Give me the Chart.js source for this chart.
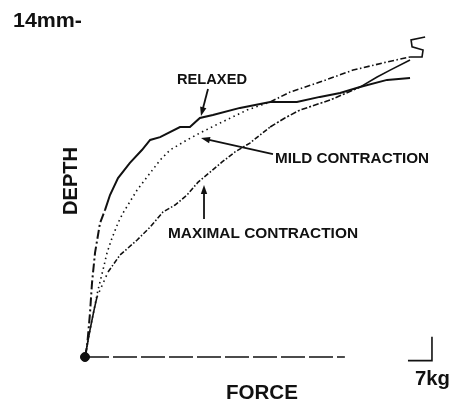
<!DOCTYPE html>
<html><head><meta charset="utf-8">
<script src="https://cdn.jsdelivr.net/npm/chart.js@4.4.1/dist/chart.umd.min.js"></script>
<style>html,body{margin:0;padding:0;background:#fff;}canvas{display:block;}</style>
</head><body>
<canvas id="c" width="453" height="404"></canvas>
<script>
// ---- data (force in kg, depth in mm) ----
const SERIES_NAMES = ['RELAXED', 'MILD CONTRACTION', 'MAXIMAL CONTRACTION'];

const RELAXED_FORCE_KG = [0, 0.58, 1.46, 2.04, 2.92, 4.38, 5.83, 7.29, 9.63, 13.1, 16.6, 19.0, 21.9, 27.7, 30.6, 33.5, 37.3, 45.2, 54.0, 61.8, 68.5, 74.4, 80.2, 88.1, 94.8];
const RELAXED_DEPTH_MM = [0, 0.42, 1.84, 3.09, 4.35, 5.60, 6.14, 6.77, 7.48, 8.11, 8.65, 9.07, 9.19, 9.61, 9.61, 9.99, 10.11, 10.41, 10.66, 10.66, 10.87, 11.03, 11.28, 11.58, 11.66];

const MILD_FORCE_KG = [0, 0.88, 2.04, 3.79, 5.25, 6.42, 7.88, 9.63, 11.1, 15.2, 18.1, 21.9, 24.8, 29.75, 33.5, 39.4, 47.25, 54.0, 59.8, 68.5, 78.2, 88.1, 94.8, 98.3, 98.6, 95.4, 95.1, 99.2];
const MILD_DEPTH_MM = [0, 0.71, 1.55, 2.80, 3.64, 4.35, 4.97, 5.60, 6.02, 6.98, 7.52, 8.23, 8.65, 9.07, 9.36, 9.78, 10.32, 10.66, 11.07, 11.49, 11.99, 12.33, 12.54, 12.54, 12.83, 12.96, 13.25, 13.37];

const MAXIMAL_FORCE_KG = [0, 1.46, 2.63, 3.50, 6.71, 10.2, 15.2, 19.0, 22.75, 26.25, 29.75, 33.0, 36.5, 40.0, 43.75, 48.1, 54.0, 58.3, 62.7, 71.5, 80.2, 85.2, 89.0, 94.8];
const MAXIMAL_DEPTH_MM = [0, 1.13, 1.96, 2.51, 3.55, 4.26, 4.89, 5.43, 6.06, 6.35, 6.77, 7.31, 7.73, 8.15, 8.57, 8.94, 9.61, 9.99, 10.32, 10.74, 11.28, 11.70, 11.99, 12.41];

const FORCE_AXIS_KG = [0, 75.8];   // drawn extent of the force axis
const DEPTH_MAX_MM = 14;           // "14mm" mark
const SCALE_BAR_KG = 7;            // "7kg" calibration bar
const SCALE_BAR_MM = 1;
const SCALE_BAR_START_KG = 94.2;

// ---- helpers ----
const pts = (xs, ys) => xs.map((x, i) => ({x: x, y: ys[i]}));
const INK = '#111111';
const FONT = '"Liberation Sans", Arial, Helvetica, sans-serif';

function dashFor(rules) {
  return ctx => {
    const i = ctx.p0DataIndex;
    for (const r of rules) if (i < r[0]) return r[1];
    return [];
  };
}

const annotations = {
  labels: [
    {text: SERIES_NAMES[0], kg: 26.83, mm: 11.41, size: 14.5, width: 70},
    {text: SERIES_NAMES[1], kg: 55.42, mm: 8.11, size: 14.5, width: 154},
    {text: SERIES_NAMES[2], kg: 24.21, mm: 4.97, size: 15.5, width: 190}
  ],
  arrows: [
    {from: [35.875, 11.20], to: [33.83, 10.07]},
    {from: [54.83, 8.48], to: [33.83, 9.15]},
    {from: [34.71, 5.77], to: [34.71, 7.19]}
  ]
};

function fitText(ctx, text, x, y, size, width, align) {
  ctx.save();
  ctx.font = 'bold ' + size + 'px ' + FONT;
  const w = ctx.measureText(text).width;
  const sx = width ? width / w : 1;
  ctx.translate(x, y);
  ctx.scale(sx, 1);
  ctx.textBaseline = 'alphabetic';
  ctx.textAlign = 'left';
  let ox = 0;
  if (align === 'right') ox = -w; else if (align === 'center') ox = -w / 2;
  ctx.fillStyle = INK;
  ctx.fillText(text, ox, 0);
  ctx.restore();
}

function arrow(ctx, x0, y0, x1, y1) {
  const ang = Math.atan2(y1 - y0, x1 - x0);
  const hl = 9, hw = 3.2;
  ctx.save();
  ctx.strokeStyle = INK; ctx.fillStyle = INK; ctx.lineWidth = 1.8;
  ctx.beginPath();
  ctx.moveTo(x0, y0);
  ctx.lineTo(x1 - Math.cos(ang) * hl * 0.8, y1 - Math.sin(ang) * hl * 0.8);
  ctx.stroke();
  ctx.beginPath();
  ctx.moveTo(x1, y1);
  ctx.lineTo(x1 - Math.cos(ang) * hl - Math.sin(ang) * hw, y1 - Math.sin(ang) * hl + Math.cos(ang) * hw);
  ctx.lineTo(x1 - Math.cos(ang) * hl + Math.sin(ang) * hw, y1 - Math.sin(ang) * hl - Math.cos(ang) * hw);
  ctx.closePath();
  ctx.fill();
  ctx.restore();
}

const textPlugin = {
  id: 'figText',
  afterDatasetsDraw(chart) {
    const ctx = chart.ctx;
    const xs = chart.scales.x, ys = chart.scales.y;
    const X = v => xs.getPixelForValue(v), Y = v => ys.getPixelForValue(v);
    const left = X(0), bottom = Y(0);

    annotations.labels.forEach(l => fitText(ctx, l.text, X(l.kg), Y(l.mm), l.size, l.width, 'left'));
    annotations.arrows.forEach(a => arrow(ctx, X(a.from[0]), Y(a.from[1]), X(a.to[0]), Y(a.to[1])));

    // depth maximum mark
    fitText(ctx, DEPTH_MAX_MM + 'mm-', left - 3, Y(DEPTH_MAX_MM) + 5, 19.5, 69, 'right');

    // axis titles
    ctx.save();
    ctx.translate(left - 8, Y(7.36));
    ctx.rotate(-Math.PI / 2);
    fitText(ctx, 'DEPTH', 0, 0, 21, 68, 'center');
    ctx.restore();
    fitText(ctx, 'FORCE', X(51.6), bottom + 42, 20, 72, 'center');

    // calibration label
    fitText(ctx, SCALE_BAR_KG + 'kg', X(SCALE_BAR_START_KG) + 7, bottom + 28, 19.5, 35, 'left');
  }
};

const chart = new Chart(document.getElementById('c'), {
  type: 'scatter',
  data: {
    datasets: [
      {
        label: SERIES_NAMES[0],
        data: pts(RELAXED_FORCE_KG, RELAXED_DEPTH_MM),
        showLine: true, borderColor: INK, borderWidth: 2, pointRadius: 0, tension: 0, clip: false,
        segment: {borderDash: dashFor([[6, [9, 3, 2, 3]]])}
      },
      {
        label: SERIES_NAMES[1],
        data: pts(MILD_FORCE_KG, MILD_DEPTH_MM),
        showLine: true, borderColor: INK, borderWidth: 1.6, pointRadius: 0, tension: 0, clip: false,
        segment: {borderDash: dashFor([[17, [1.5, 3.5]], [22, [6, 2.5, 1.5, 2.5]]])}
      },
      {
        label: SERIES_NAMES[2],
        data: pts(MAXIMAL_FORCE_KG, MAXIMAL_DEPTH_MM),
        showLine: true, borderColor: INK, borderWidth: 1.6, pointRadius: 0, tension: 0, clip: false,
        segment: {borderDash: dashFor([[3, []], [4, [1.5, 4]], [16, [5, 2, 1.5, 2]], [20, [6, 2, 2, 2]]])}
      },
      {
        label: 'force axis',
        data: pts(FORCE_AXIS_KG, [0, 0]),
        showLine: true, borderColor: INK, borderWidth: 1.6, pointRadius: 0, clip: false,
        borderDash: [24, 4]
      },
      {
        label: 'origin',
        data: [{x: 0, y: 0}],
        showLine: false, pointRadius: 4.5, pointBackgroundColor: INK, pointBorderColor: INK, clip: false
      },
      {
        label: 'scale bar',
        data: [
          {x: SCALE_BAR_START_KG, y: -0.15},
          {x: SCALE_BAR_START_KG + SCALE_BAR_KG, y: -0.15},
          {x: SCALE_BAR_START_KG + SCALE_BAR_KG, y: -0.15 + SCALE_BAR_MM}
        ],
        showLine: true, borderColor: INK, borderWidth: 1.6, pointRadius: 0, clip: false
      }
    ]
  },
  options: {
    responsive: false,
    animation: false,
    devicePixelRatio: 1,
    layout: {padding: {left: 85, right: 8, top: 22, bottom: 47}},
    plugins: {legend: {display: false}, tooltip: {enabled: false}, title: {display: false}},
    scales: {
      x: {type: 'linear', display: false, min: 0, max: 105},
      y: {type: 'linear', display: false, min: 0, max: DEPTH_MAX_MM}
    }
  },
  plugins: [textPlugin]
});
</script>
</body></html>
